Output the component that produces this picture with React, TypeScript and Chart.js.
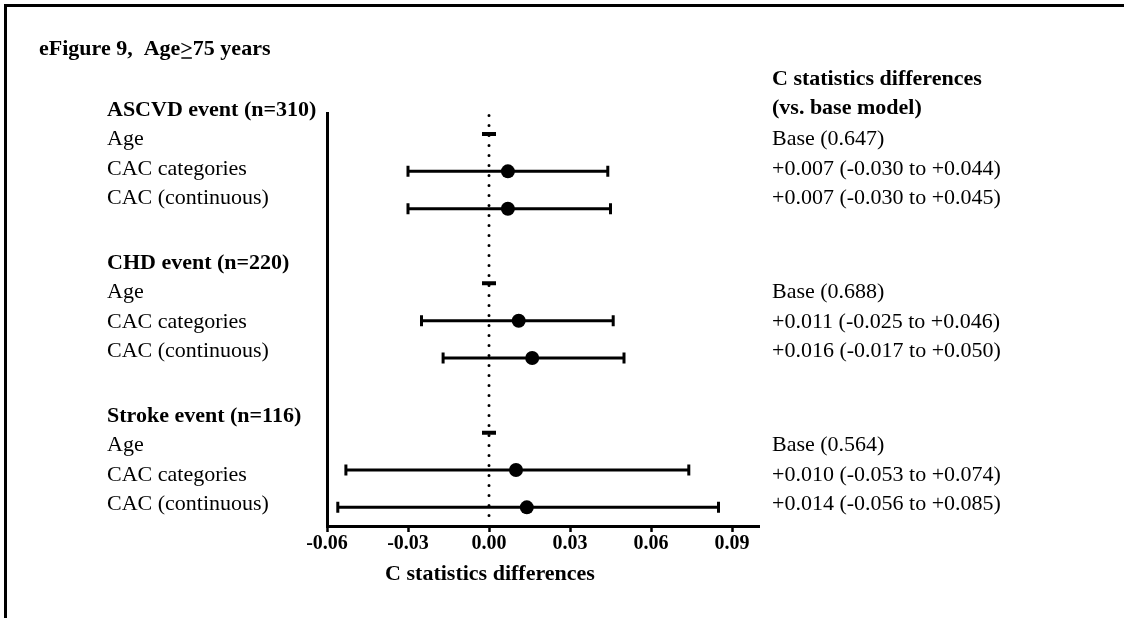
import React, { useEffect, useRef } from "react";
import { Chart, registerables } from "chart.js";

Chart.register(...registerables);

// ---------- data ----------
const GROUPS = ["ASCVD event (n=310)", "CHD event (n=220)", "Stroke event (n=116)"];
const MODELS = ["Age", "CAC categories", "CAC (continuous)"];
const BASE_C = [0.647, 0.688, 0.564];
const AGE_DIFF = [0, 0, 0];
const CAT_EST = [0.007, 0.011, 0.01];
const CAT_LOW = [-0.03, -0.025, -0.053];
const CAT_HIGH = [0.044, 0.046, 0.074];
const CONT_EST = [0.007, 0.016, 0.014];
const CONT_LOW = [-0.03, -0.017, -0.056];
const CONT_HIGH = [0.045, 0.05, 0.085];
const X_TICKS = [-0.06, -0.03, 0, 0.03, 0.06, 0.09];
const X_MIN = -0.06;
const X_MAX = 0.1;
const ROWS_PER_GROUP = 4;

const TITLE_A = "eFigure 9,  Age";
const TITLE_B = ">";
const TITLE_C = "75 years";
const RIGHT_HEAD = ["C statistics differences", "(vs. base model)"];
const X_TITLE = "C statistics differences";

const FONT = '"Liberation Serif", "Times New Roman", serif';

const signed = (v: number) => (v >= 0 ? "+" : "") + v.toFixed(3);

const rowOf = (g: number, k: number) => g * ROWS_PER_GROUP + k;

const W = 1124;
const H = 618;

export default function App() {
  const ref = useRef<HTMLCanvasElement | null>(null);

  useEffect(() => {
    if (!ref.current) return;

    const ageData = AGE_DIFF.map((v, g) => ({ x: v, y: rowOf(g, 0) }));
    const catData = CAT_EST.map((v, g) => ({ x: v, y: rowOf(g, 1) }));
    const contData = CONT_EST.map((v, g) => ({ x: v, y: rowOf(g, 2) }));

    const bars: { lo: number; hi: number; row: number }[] = [];
    CAT_LOW.forEach((lo, g) => bars.push({ lo, hi: CAT_HIGH[g], row: rowOf(g, 1) }));
    CONT_LOW.forEach((lo, g) => bars.push({ lo, hi: CONT_HIGH[g], row: rowOf(g, 2) }));

    const errorBars = {
      id: "errorBars",
      beforeDatasetsDraw(chart: any) {
        const { ctx, scales, chartArea } = chart;
        const xs = scales.x;
        const ys = scales.y;
        ctx.save();
        // dotted zero line
        ctx.strokeStyle = "#000";
        ctx.lineWidth = 3;
        ctx.lineCap = "round";
        ctx.setLineDash([0, 10]);
        const x0 = xs.getPixelForValue(0);
        ctx.beginPath();
        ctx.moveTo(x0, chartArea.top + 2);
        ctx.lineTo(x0, chartArea.bottom - 6);
        ctx.stroke();
        ctx.setLineDash([]);
        ctx.lineCap = "butt";
        // whiskers
        ctx.lineWidth = 3;
        bars.forEach((b) => {
          const y = ys.getPixelForValue(b.row);
          const xl = xs.getPixelForValue(b.lo);
          const xh = xs.getPixelForValue(b.hi);
          ctx.beginPath();
          ctx.moveTo(xl, y);
          ctx.lineTo(xh, y);
          ctx.moveTo(xl, y - 5.5);
          ctx.lineTo(xl, y + 5.5);
          ctx.moveTo(xh, y - 5.5);
          ctx.lineTo(xh, y + 5.5);
          ctx.stroke();
        });
        ctx.restore();
      },
    };

    const texts = {
      id: "texts",
      afterDraw(chart: any) {
        const { ctx, scales } = chart;
        const xs = scales.x;
        ctx.save();
        ctx.fillStyle = "#000";
        ctx.strokeStyle = "#000";
        // frame
        ctx.fillRect(4, 4, W, 3);
        ctx.fillRect(4, 4, 3, H);
        ctx.textBaseline = "alphabetic";
        ctx.textAlign = "left";
        // title
        ctx.font = `bold 22px ${FONT}`;
        let tx = 39;
        const ty = 55;
        ctx.fillText(TITLE_A, tx, ty);
        tx += ctx.measureText(TITLE_A).width;
        const gw = ctx.measureText(TITLE_B).width;
        ctx.fillText(TITLE_B, tx, ty);
        ctx.lineWidth = 1.5;
        ctx.beginPath();
        ctx.moveTo(tx + 1, ty + 3);
        ctx.lineTo(tx + gw - 1, ty + 3);
        ctx.stroke();
        tx += gw;
        ctx.fillText(TITLE_C, tx, ty);

        // right column header
        ctx.font = `bold 22px ${FONT}`;
        ctx.fillText(RIGHT_HEAD[0], 772, 85);
        ctx.fillText(RIGHT_HEAD[1], 772, 114);

        GROUPS.forEach((name, g) => {
          const hy = 115.5 + 153 * g;
          ctx.font = `bold 22px ${FONT}`;
          ctx.fillText(name, 107, hy);
          ctx.font = `22px ${FONT}`;
          MODELS.forEach((m, k) => {
            ctx.fillText(m, 107, hy + 29.5 * (k + 1));
          });
          const right = [
            `Base (${BASE_C[g].toFixed(3)})`,
            `${signed(CAT_EST[g])} (${signed(CAT_LOW[g])} to ${signed(CAT_HIGH[g])})`,
            `${signed(CONT_EST[g])} (${signed(CONT_LOW[g])} to ${signed(CONT_HIGH[g])})`,
          ];
          right.forEach((t, k) => ctx.fillText(t, 772, hy + 29.5 * (k + 1)));
        });

        // x axis title
        ctx.font = `bold 22px ${FONT}`;
        ctx.textAlign = "center";
        ctx.fillText(X_TITLE, xs.getPixelForValue(0) + 1, 580);
        ctx.restore();
      },
    };

    const chart = new Chart(ref.current, {
      type: "scatter",
      data: {
        datasets: [
          {
            label: "Age",
            data: ageData,
            pointStyle: "line",
            pointRadius: 7,
            pointBorderWidth: 4,
            borderColor: "#000",
            backgroundColor: "#000",
          } as any,
          {
            label: "CAC categories",
            data: catData,
            pointStyle: "circle",
            pointRadius: 7,
            pointBorderWidth: 0,
            backgroundColor: "#000",
            borderColor: "#000",
          },
          {
            label: "CAC (continuous)",
            data: contData,
            pointStyle: "circle",
            pointRadius: 7,
            pointBorderWidth: 0,
            backgroundColor: "#000",
            borderColor: "#000",
          },
        ],
      },
      options: {
        responsive: false,
        animation: false,
        devicePixelRatio: 1,
        layout: { padding: { left: 327, right: W - 759, top: 113.5, bottom: 52 } },
        plugins: { legend: { display: false }, tooltip: { enabled: false } },
        scales: {
          x: {
            type: "linear",
            min: X_MIN,
            max: X_MAX,
            afterBuildTicks: (s: any) => {
              s.ticks = X_TICKS.map((v) => ({ value: v }));
            },
            afterFit: (s: any) => {
              s.height = 40;
            },
            grid: {
              display: true,
              drawOnChartArea: false,
              drawTicks: true,
              tickLength: 6,
              tickWidth: 2.5,
              tickColor: "#000",
            },
            border: { display: true, color: "#000", width: 3 },
            ticks: {
              autoSkip: false,
              maxRotation: 0,
              padding: 0,
              color: "#000",
              font: { family: FONT, size: 20, weight: "bold" },
              callback: (v: any) => Number(v).toFixed(2),
            },
          },
          y: {
            type: "linear",
            reverse: true,
            min: -0.55,
            max: 10.5,
            afterFit: (s: any) => {
              s.width = 0;
            },
            grid: { display: false },
            border: { display: true, color: "#000", width: 3 },
            ticks: { display: false },
          },
        },
      },
      plugins: [errorBars, texts],
    } as any);

    return () => chart.destroy();
  }, []);

  return (
    <div style={{ position: "absolute", left: 0, top: 0, width: W, height: H, background: "#fff" }}>
      <canvas ref={ref} width={W} height={H} style={{ width: W, height: H, display: "block" }} />
    </div>
  );
}
